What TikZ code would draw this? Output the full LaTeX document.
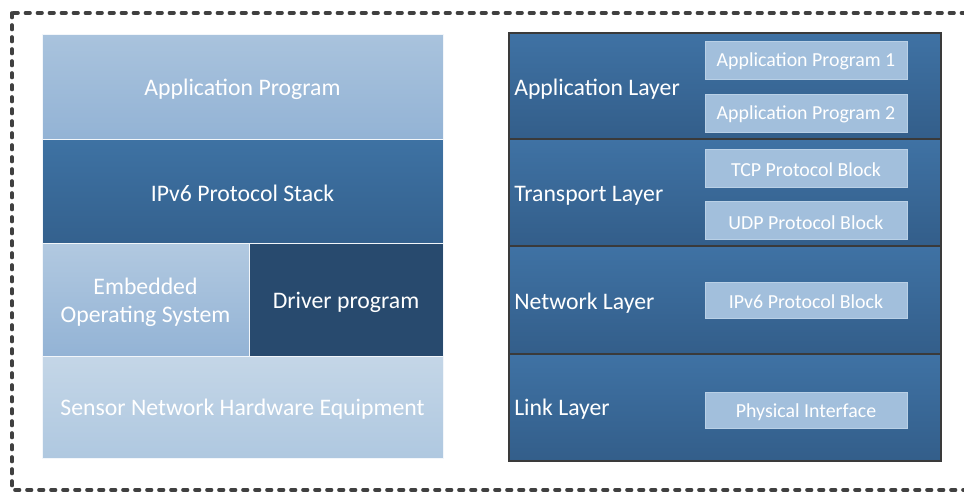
\documentclass[tikz,border=0pt]{standalone}
\usepackage{fontspec}
\setmainfont{Carlito}
\usetikzlibrary{positioning}
\definecolor{lightA}{HTML}{A9C3DD}
\definecolor{lightB}{HTML}{93B3D5}
\definecolor{midA}{HTML}{3E72A3}
\definecolor{midB}{HTML}{34618E}
\definecolor{drvcol}{HTML}{284A6E}
\definecolor{palA}{HTML}{C4D6E7}
\definecolor{palB}{HTML}{AFC8E0}
\definecolor{layA}{HTML}{3F72A4}
\definecolor{layB}{HTML}{335E8A}
\definecolor{edgecol}{HTML}{3A3A3A}
\definecolor{inbox}{HTML}{A2BFDC}
\definecolor{inedge}{HTML}{B9D0E6}
\definecolor{dashcol}{HTML}{404040}
\tikzset{
  px/.style={x=0.75pt,y=-0.75pt},
  blk/.style={draw=white!85!lightA, line width=0.6pt},
  btxt/.style={text=white, font=\fontsize{17.8}{21}\selectfont, align=center, yshift=-1.8pt},
  layer/.style={draw=edgecol, line width=2.2pt, top color=layA, bottom color=layB},
  sub/.style={draw=inedge, line width=0.6pt, fill=inbox, text=white, font=\fontsize{14.9}{17}\selectfont, align=center, minimum width=151.5pt},
  stxt/.style={text=white, font=\fontsize{14.9}{17}\selectfont, yshift=-1.3pt},
  lbl/.style={text=white, font=\fontsize{17.8}{21}\selectfont, anchor=west, inner sep=0pt, yshift=-1.5pt}
}
\begin{document}
\begin{tikzpicture}[px]
\useasboundingbox (0,0) rectangle (964,493);
\fill[white] (0,0) rectangle (964,493);
\begin{scope}
\clip (0,0) rectangle (964,493);
\draw[draw=dashcol, line width=2.7pt, dash pattern=on 3.4pt off 5.6pt, line cap=round] (12,13) rectangle (990,490);
\end{scope}
% left stack
\path[blk, top color=lightA, bottom color=lightB] (42,34) rectangle (443,139);
\node[btxt] (app) at (242.5,86.5) {Application Program};
\path[blk, top color=midA, bottom color=midB] (42,139) rectangle (443,243);
\node[btxt] (ipv6) at (242.5,191) {IPv6 Protocol Stack};
\path[blk, top color=lightA!90!white, bottom color=lightB] (42,243) rectangle (249,356);
\node[btxt] (eos) at (145.5,299.5) {Embedded\\Operating System};
\path[blk, fill=drvcol] (249,243) rectangle (443,356);
\node[btxt] (drv) at (346,299.5) {Driver program};
\path[blk, top color=palA, bottom color=palB] (42,356) rectangle (443,458);
\node[btxt] (hw) at (242.5,407) {Sensor Network Hardware Equipment};
% right stack
\path[layer] (509,33) rectangle (941,139);
\path[layer] (509,139) rectangle (941,246);
\path[layer] (509,246) rectangle (941,354);
\path[layer] (509,354) rectangle (941,461);
\node[lbl] (al) at (514,87) {Application Layer};
\node[lbl] (tl) at (514,194) {Transport Layer};
\node[lbl] (nl) at (514,301) {Network Layer};
\node[lbl] (ll) at (514,407) {Link Layer};
\node[sub, minimum height=28.5pt] (ap1) at (806,60) {};
\node[stxt] at (ap1) {Application Program 1};
\node[sub, minimum height=28.5pt] (ap2) at (806,113) {};
\node[stxt] at (ap2) {Application Program 2};
\node[sub, minimum height=28.5pt] (tcp) at (806,168) {};
\node[stxt] at (tcp) {TCP Protocol Block};
\node[sub, minimum height=28.5pt] (udp) at (806,220.5) {};
\node[stxt] at (udp) {UDP Protocol Block};
\node[sub, minimum height=27pt] (ipb) at (806,300) {};
\node[stxt] at (ipb) {IPv6 Protocol Block};
\node[sub, minimum height=27.5pt] (phy) at (806,410.5) {};
\node[stxt] at (phy) {Physical Interface};
\end{tikzpicture}
\end{document}
